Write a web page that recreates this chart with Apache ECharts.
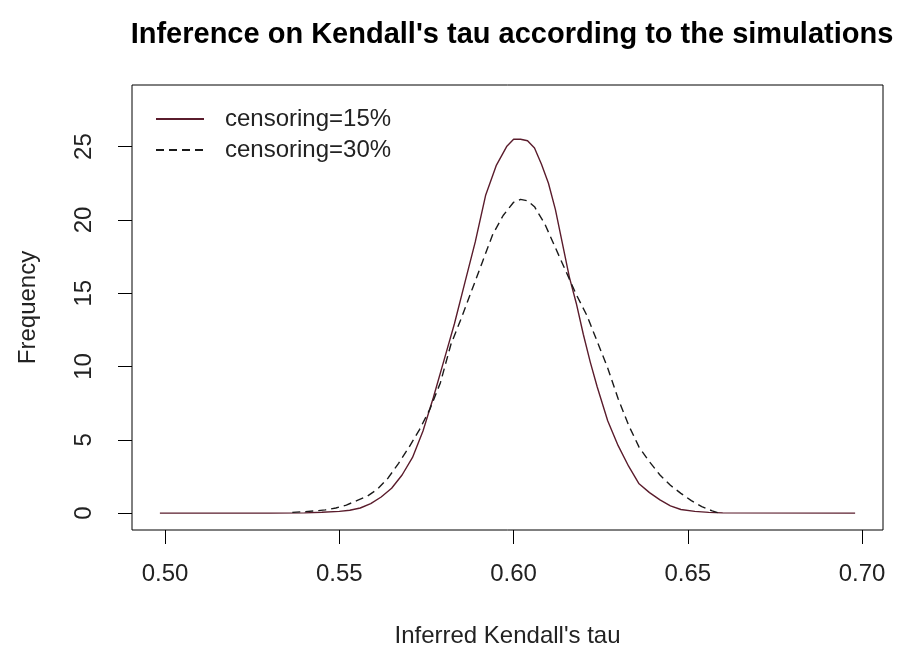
<!DOCTYPE html>
<html>
<head>
<meta charset="utf-8">
<script src="https://cdn.jsdelivr.net/npm/echarts@6/dist/echarts.min.js"></script>
<style>
html,body{margin:0;padding:0;background:#fff;}
#chart{width:914px;height:653px;}
</style>
</head>
<body>
<div id="chart"></div>
<script>
// Data
const xTicks = [0.50, 0.55, 0.60, 0.65, 0.70];
const yTicks = [0, 5, 10, 15, 20, 25];

const x15 = [0.4985, 0.530, 0.540, 0.545, 0.550, 0.553, 0.556, 0.559, 0.562, 0.565, 0.568, 0.571, 0.574, 0.577, 0.580, 0.583, 0.586, 0.589, 0.592, 0.595, 0.598, 0.600, 0.602, 0.604, 0.606, 0.608, 0.610, 0.612, 0.614, 0.616, 0.618, 0.620, 0.622, 0.624, 0.627, 0.630, 0.633, 0.636, 0.639, 0.642, 0.645, 0.648, 0.652, 0.656, 0.660, 0.698];
const y15 = [0, 0, 0.02, 0.06, 0.12, 0.2, 0.35, 0.65, 1.1, 1.7, 2.6, 3.8, 5.6, 7.9, 10.4, 12.9, 15.7, 18.5, 21.7, 23.7, 25.0, 25.5, 25.5, 25.4, 24.9, 23.8, 22.5, 20.7, 18.4, 16.1, 14.3, 12.2, 10.3, 8.6, 6.3, 4.6, 3.2, 2.0, 1.4, 0.9, 0.5, 0.25, 0.12, 0.05, 0.02, 0];

const x30 = [0.5365, 0.540, 0.543, 0.546, 0.549, 0.552, 0.555, 0.558, 0.561, 0.564, 0.567, 0.570, 0.573, 0.576, 0.579, 0.582, 0.585, 0.588, 0.591, 0.594, 0.597, 0.600, 0.602, 0.604, 0.606, 0.609, 0.612, 0.615, 0.618, 0.621, 0.624, 0.627, 0.630, 0.633, 0.636, 0.639, 0.642, 0.645, 0.648, 0.651, 0.654, 0.657, 0.6587];
const y30 = [0.05, 0.1, 0.15, 0.22, 0.35, 0.55, 0.85, 1.15, 1.65, 2.4, 3.4, 4.5, 5.7, 7.1, 8.9, 11.5, 13.3, 15.2, 17.1, 19.0, 20.3, 21.2, 21.4, 21.3, 20.9, 19.7, 18.1, 16.5, 14.9, 13.5, 11.7, 9.9, 7.8, 6.0, 4.5, 3.5, 2.6, 1.9, 1.35, 0.85, 0.45, 0.15, 0.02];

const seriesNames = ['censoring=15%', 'censoring=30%'];

const pair = (xs, ys) => xs.map((x, i) => [x, ys[i]]);
const FONT = 'Liberation Sans, Arial, sans-serif';
const TXT = '#222';

const chart = echarts.init(document.getElementById('chart'), null, {renderer: 'canvas'});
chart.setOption({
  animation: false,
  backgroundColor: '#ffffff',
  title: {
    text: "Inference on Kendall's tau according to the simulations",
    left: 507, top: 15, textAlign: 'center',
    textStyle: {fontFamily: FONT, fontSize: 29, fontWeight: 'bold', color: '#000'}
  },
  legend: {
    orient: 'vertical', left: 150, top: 102,
    itemWidth: 48, itemHeight: 14, itemGap: 7,
    itemStyle: {opacity: 0},
    textStyle: {fontFamily: FONT, fontSize: 24, color: TXT, padding: [0, 0, 0, 16]},
    data: seriesNames
  },
  grid: {
    left: 132, right: 31, top: 85, bottom: 123,
    show: true, borderColor: '#000', borderWidth: 1, backgroundColor: 'transparent'
  },
  xAxis: {
    type: 'value', min: 0.4905, max: 0.706,
    name: "Inferred Kendall's tau", nameLocation: 'middle', nameGap: 94,
    nameTextStyle: {fontFamily: FONT, fontSize: 24, color: TXT},
    axisLine: {show: false, onZero: false},
    splitLine: {show: false},
    axisTick: {show: true, length: 14, customValues: xTicks, lineStyle: {color: '#000'}},
    axisLabel: {customValues: xTicks, fontFamily: FONT, fontSize: 24, color: TXT, margin: 32,
      formatter: v => v.toFixed(2)}
  },
  yAxis: {
    type: 'value', min: -1.15, max: 29.2,
    name: 'Frequency', nameLocation: 'middle', nameGap: 92, nameRotate: 90,
    nameTextStyle: {fontFamily: FONT, fontSize: 24, color: TXT},
    axisLine: {show: false, onZero: false},
    splitLine: {show: false},
    axisTick: {show: true, length: 14, customValues: yTicks, lineStyle: {color: '#000'}},
    axisLabel: {customValues: yTicks, fontFamily: FONT, fontSize: 24, color: TXT, margin: 36,
      rotate: 90, formatter: v => String(v)}
  },
  series: [
    {
      name: seriesNames[0], type: 'line', symbol: 'none', smooth: false,
      data: pair(x15, y15),
      lineStyle: {color: '#5a1c2c', width: 1.4, type: 'solid'},
      itemStyle: {color: '#5a1c2c'}
    },
    {
      name: seriesNames[1], type: 'line', symbol: 'none', smooth: false,
      data: pair(x30, y30),
      lineStyle: {color: '#1a1a1a', width: 1.4, type: [8, 5]},
      itemStyle: {color: '#1a1a1a'}
    }
  ]
});
</script>
</body>
</html>
